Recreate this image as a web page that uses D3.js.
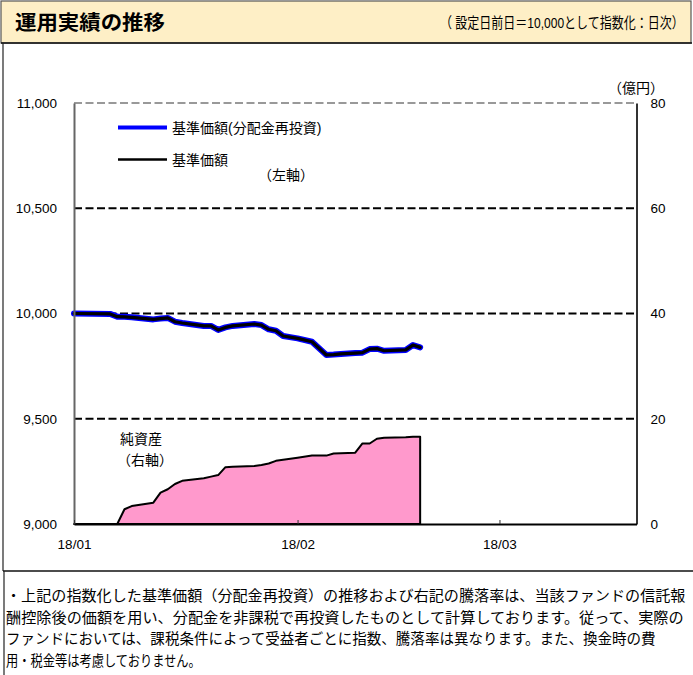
<!DOCTYPE html>
<html>
<head>
<meta charset="utf-8">
<script src="https://cdn.jsdelivr.net/npm/d3@7/dist/d3.min.js"></script>
<style>
  html, body { margin: 0; padding: 0; background: #fff; }
  svg { display: block; }
  text { font-family: "Liberation Sans", "Noto Sans CJK JP", sans-serif; fill: #000; }
</style>
</head>
<body>
<svg id="chart" width="693" height="675"></svg>
<script>
// Daily observation dates
const dates = [
  "2018-01-01","2018-01-06","2018-01-07","2018-01-08","2018-01-09","2018-01-12",
  "2018-01-13","2018-01-14","2018-01-15","2018-01-16","2018-01-19","2018-01-20",
  "2018-01-21","2018-01-22","2018-01-23","2018-01-26","2018-01-27","2018-01-28",
  "2018-01-29","2018-01-30","2018-02-01","2018-02-03","2018-02-05","2018-02-06",
  "2018-02-07","2018-02-09","2018-02-10","2018-02-11","2018-02-12","2018-02-13",
  "2018-02-16","2018-02-17","2018-02-18"
];
// 基準価額 (indexed, 10,000 = day before launch)
const navValues = [
  10000, 9998, 9985, 9984, 9982, 9972,
  9976, 9979, 9961, 9955, 9941, 9941,
  9922, 9934, 9941, 9950, 9945, 9925,
  9918, 9893, 9882, 9866, 9803, 9805,
  9808, 9812, 9814, 9831, 9833, 9823,
  9827, 9850, 9839
];
// 基準価額(分配金再投資) — no distributions yet, so identical
const navReinvestValues = navValues.slice();
// 純資産 (億円)
const netAssets = [
  0, 0, 0, 2.8, 3.4, 4.05,
  5.95, 6.6, 7.6, 8.2, 8.7, 9.0,
  9.3, 10.8, 10.9, 11.0, 11.2, 11.5,
  12.0, 12.2, 12.6, 13.0, 13.0, 13.4,
  13.45, 13.55, 15.3, 15.3, 16.2, 16.4,
  16.5, 16.6, 16.6
];
const leftTicks = [9000, 9500, 10000, 10500, 11000];
const rightTicks = [0, 20, 40, 60, 80];
const monthTicks = ["2018-01-01", "2018-02-01", "2018-03-01"];
const footerLines = [
  "・上記の指数化した基準価額（分配金再投資）の推移および右記の騰落率は、当該ファンドの信託報",
  "酬控除後の価額を用い、分配金を非課税で再投資したものとして計算しております。従って、実際の",
  "ファンドにおいては、課税条件によって受益者ごとに指数、騰落率は異なります。また、換金時の費",
  "用・税金等は考慮しておりません。"
];

const parse = d3.timeParse("%Y-%m-%d");
const rows = dates.map((d, i) => ({
  date: parse(d), nav: navValues[i], navR: navReinvestValues[i], assets: netAssets[i]
}));

const svg = d3.select("#chart");

// Places a text so that it spans [x0, x1] horizontally by scaling the glyphs
function fitText(sel, x0, x1) {
  const natural = sel.node().getComputedTextLength();
  const k = (x1 - x0) / natural;
  const y = +sel.attr("y");
  sel.attr("x", 0).attr("y", 0)
    .attr("transform", `translate(${x0},${y}) scale(${k},1)`);
  return sel;
}

// Header band
svg.append("rect").attr("x", 1).attr("y", 1).attr("width", 690).attr("height", 42)
  .attr("fill", "#FEEFC6").attr("stroke", "#555").attr("stroke-width", 1.2);
svg.append("line").attr("x1", 1).attr("x2", 692).attr("y1", 43).attr("y2", 43)
  .attr("stroke", "#111").attr("stroke-width", 1.5);
fitText(svg.append("text").attr("y", 30)
  .attr("font-size", 20).attr("font-weight", "bold")
  .text("運用実績の推移"), 15, 165);
fitText(svg.append("text").attr("y", 28)
  .attr("font-size", 15)
  .text("（ 設定日前日＝10,000として指数化：日次）"), 440, 684);

// Chart box / footer frames
svg.append("line").attr("x1", 3).attr("x2", 3).attr("y1", 43).attr("y2", 571)
  .attr("stroke", "#222").attr("stroke-width", 1.2);
svg.append("line").attr("x1", 3).attr("x2", 693).attr("y1", 571).attr("y2", 571)
  .attr("stroke", "#111").attr("stroke-width", 1.5);
svg.append("line").attr("x1", 4).attr("x2", 4).attr("y1", 571).attr("y2", 675)
  .attr("stroke", "#222").attr("stroke-width", 1.2);

// Scales
const x = d3.scaleTime()
  .domain([parse("2018-01-01"), parse("2018-03-20")])
  .range([74, 636.5]);
const yL = d3.scaleLinear().domain([9000, 11000]).range([524, 103]);
const yR = d3.scaleLinear().domain([0, 80]).range([524, 103]);

// Gridlines
const plot = svg.append("g");
plot.selectAll("line.grid").data(leftTicks.filter(t => t > 9000))
  .join("line").attr("class", "grid")
  .attr("x1", 74).attr("x2", 636.5)
  .attr("y1", d => yL(d)).attr("y2", d => yL(d))
  .attr("stroke", d => d === 11000 ? "#999" : "#000")
  .attr("stroke-width", 2)
  .attr("stroke-dasharray", "8,3.5");

// Net assets area (right axis)
const area = d3.area()
  .x(d => x(d.date)).y0(yR(0)).y1(d => yR(d.assets));
plot.append("path").datum(rows)
  .attr("d", area)
  .attr("fill", "#FF99CC").attr("stroke", "#000").attr("stroke-width", 2)
  .attr("stroke-linejoin", "round");

// NAV lines (left axis)
const lineR = d3.line().x(d => x(d.date)).y(d => yL(d.navR));
const lineN = d3.line().x(d => x(d.date)).y(d => yL(d.nav));
plot.append("path").datum(rows).attr("d", lineR)
  .attr("fill", "none").attr("stroke", "#0000FF").attr("stroke-width", 6)
  .attr("stroke-linejoin", "round").attr("stroke-linecap", "round");
plot.append("path").datum(rows).attr("d", lineN)
  .attr("fill", "none").attr("stroke", "#000").attr("stroke-width", 3.2)
  .attr("stroke-linejoin", "round").attr("stroke-linecap", "round");

// Axes
const gL = svg.append("g").attr("transform", "translate(74,0)")
  .call(d3.axisLeft(yL).tickValues(leftTicks).tickFormat(d3.format(",")).tickSize(0).tickPadding(17));
gL.select(".domain").attr("stroke", "#666").attr("stroke-width", 2);
const gR = svg.append("g").attr("transform", "translate(636.5,0)")
  .call(d3.axisRight(yR).tickValues(rightTicks).tickSize(0).tickPadding(14));
gR.select(".domain").attr("stroke", "#333").attr("stroke-width", 2);
const gB = svg.append("g").attr("transform", "translate(0,524)")
  .call(d3.axisBottom(x).tickValues(monthTicks.map(parse))
    .tickFormat(d3.timeFormat("%y/%m")).tickSizeInner(-4).tickSizeOuter(0).tickPadding(15));
gB.select(".domain").attr("stroke", "#000").attr("stroke-width", 2);
gB.selectAll(".tick line").attr("stroke", "#333");
[gL, gR, gB].forEach(g => g.selectAll("text")
  .attr("font-size", 13.5).attr("font-family", "Liberation Sans, sans-serif").attr("fill", "#000"));

svg.append("text").attr("x", 636).attr("y", 93).attr("text-anchor", "middle")
  .attr("font-size", 14).text("（億円）");

// Legend
const legend = [
  { label: "基準価額(分配金再投資)", color: "#0000FF", width: 4, y: 127.5 },
  { label: "基準価額", color: "#000", width: 2.5, y: 159.5 }
];
const lg = svg.append("g");
lg.selectAll("line").data(legend).join("line")
  .attr("x1", 118).attr("x2", 167).attr("y1", d => d.y).attr("y2", d => d.y)
  .attr("stroke", d => d.color).attr("stroke-width", d => d.width);
lg.selectAll("text").data(legend).join("text")
  .attr("x", 172).attr("y", d => d.y + 5).attr("font-size", 14).text(d => d.label);
svg.append("text").attr("x", 258).attr("y", 180).attr("font-size", 14).text("（左軸）");
svg.append("text").attr("x", 120).attr("y", 444).attr("font-size", 14).text("純資産");
svg.append("text").attr("x", 117).attr("y", 465).attr("font-size", 14).text("（右軸）");

// Footer notes
const footerEnds = [686, 684, 656, 201];
footerLines.forEach((line, i) => {
  fitText(svg.append("text").attr("y", 601 + i * 21.5)
    .attr("font-size", 14.5).text(line), 6, footerEnds[i]);
});
</script>
</body>
</html>
